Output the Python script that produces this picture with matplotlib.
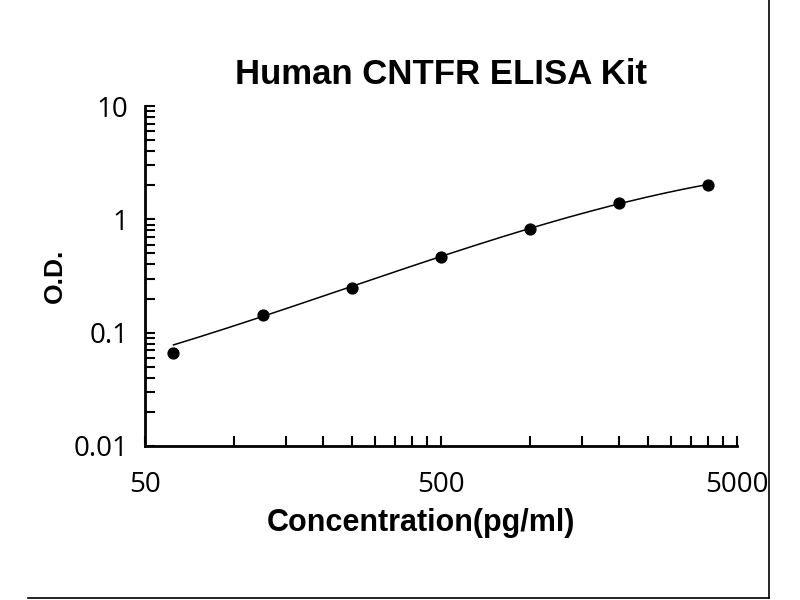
import numpy as np
import matplotlib
matplotlib.use('Agg')
from matplotlib import pyplot as plt
from matplotlib.ticker import NullFormatter, FixedLocator
from matplotlib.lines import Line2D

# standard curve points
conc = [62.5, 125, 250, 500, 1000, 2000, 4000]
od = [0.066, 0.144, 0.250, 0.465, 0.83, 1.40, 2.02]
# value of the fitted curve at each concentration
fit_od = [0.077, 0.143, 0.252, 0.465, 0.83, 1.40, 2.02]
xticks = [50, 500, 5000]
yticks = [0.01, 0.1, 1, 10]
ytick_labels = ['0.01', '0.1', '1', '10']

plt.rcParams['font.family'] = 'Open Sans'

fig = plt.figure(figsize=(8, 6), dpi=100)
ax = fig.add_axes([0.181, 0.257, 0.74, 0.566])

# smooth curve through the fitted values (log-log cubic)
lx = np.log10(conc)
coef = np.polyfit(lx, np.log10(fit_od), 3)
xs = np.linspace(lx[0], lx[-1], 200)
ax.plot(10**xs, 10**np.polyval(coef, xs), color='black', lw=1.1)
ax.plot(conc, od, 'o', color='black', ms=7.8)

ax.set_xscale('log')
ax.set_yscale('log')
ax.set_xlim(50, 5000)
ax.set_ylim(0.01, 10)

ax.xaxis.set_major_locator(FixedLocator(xticks))
ax.set_xticklabels([str(v) for v in xticks])
ax.xaxis.set_minor_locator(FixedLocator([50 * k for k in range(2, 10)] +
                                        [500 * k for k in range(2, 10)]))
ax.xaxis.set_minor_formatter(NullFormatter())
ax.yaxis.set_major_locator(FixedLocator(yticks))
ax.set_yticklabels(ytick_labels)
ax.yaxis.set_minor_locator(FixedLocator([d * k for d in (0.01, 0.1, 1)
                                         for k in range(2, 10)]))
ax.yaxis.set_minor_formatter(NullFormatter())

ax.tick_params(which='both', direction='in', width=1.5, color='black',
               length=7)
ax.tick_params(axis='x', which='major', labelsize=20, pad=18)
ax.tick_params(axis='y', which='major', labelsize=20, pad=12)

ax.spines['top'].set_visible(False)
ax.spines['right'].set_visible(False)
ax.spines['left'].set_linewidth(2)
ax.spines['bottom'].set_linewidth(2)

ax.set_title('Human CNTFR ELISA Kit', fontsize=25, fontweight='bold',
             family='Liberation Sans', pad=16)
fig.text(421 / 800, 1 - 523 / 600, 'Concentration(pg/ml)', fontsize=22,
         fontweight='bold', family='Liberation Sans', ha='center', va='center')
fig.text(55 / 800, 1 - 276 / 600, 'O.D.', fontsize=19, rotation=90,
         fontweight='bold', family='Liberation Sans', ha='center', va='center')

# frame lines at the picture's right and bottom
fig.add_artist(Line2D([0.961, 0.961], [0.003, 1.0], color='black', lw=1.2,
                      transform=fig.transFigure))
fig.add_artist(Line2D([0.035, 0.961], [0.003, 0.003], color='black', lw=1.2,
                      transform=fig.transFigure))

plt.savefig('out.png', dpi=100)
